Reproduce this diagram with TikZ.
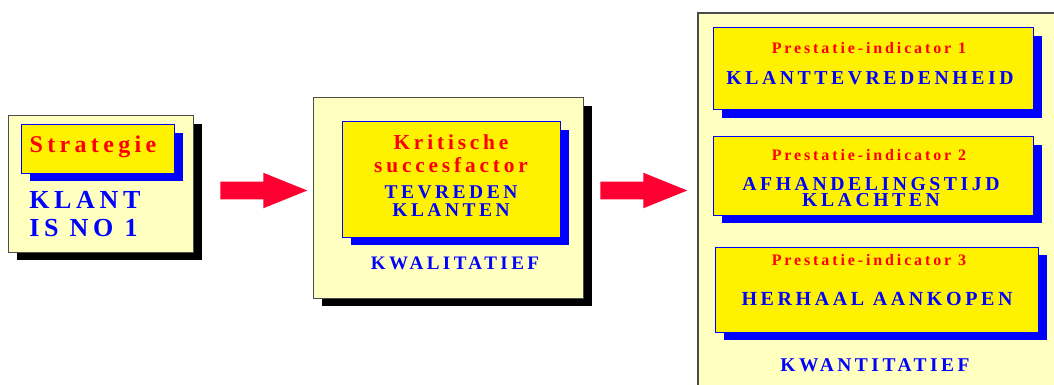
\documentclass[tikz,border=0pt]{standalone}
\usepackage{fontspec}
\setmainfont{Liberation Serif}[LetterSpace=18]
\usepackage{tikz}
\usetikzlibrary{shadows,shapes.arrows}

\newlength{\px}
\setlength{\px}{0.75pt}

\definecolor{paleyellow}{RGB}{255,255,192}
\definecolor{arrowred}{RGB}{255,0,51}

\tikzset{
    outerbox/.style={draw=black!70, line width=1\px, fill=paleyellow, inner sep=0pt},
    innerbox/.style={draw=blue, line width=1\px, fill=yellow, inner sep=0pt},
    blackshadow/.style={drop shadow={shadow xshift=9\px, shadow yshift=-8\px, fill=black, opacity=1}},
    blueshadow/.style={drop shadow={shadow xshift=9\px, shadow yshift=-8\px, fill=blue, opacity=1}},
    redtext/.style={text=red, font=\bfseries, inner sep=0pt, align=center},
    bluetext/.style={text=blue, font=\bfseries, inner sep=0pt, align=center},
    bigarrow/.style={single arrow, fill=arrowred, inner xsep=0pt, inner ysep=8.5\px, minimum width=35\px,
        single arrow head extend=9\px, single arrow tip angle=44, minimum height=87\px, anchor=tail}
}

\begin{document}
\begin{tikzpicture}[x=\px, y=-\px]
        \useasboundingbox (0,0) rectangle (1054,385);

        % Left box
        \node[outerbox, blackshadow, minimum width=185\px, minimum height=136\px] (strat) at (100.5,184) {};
        \node[innerbox, blueshadow, minimum width=153\px, minimum height=48\px] (stratin) at (97.5,149) {};
        \node[redtext, font=\fontsize{18}{20}\bfseries] (strattitle) at (93,147) {Strategie};
        \node[bluetext, anchor=west, align=left, font=\fontsize{19.5}{21}\bfseries] (klant) at (29,214) {KLANT\\IS NO 1};

        % Arrows
        \node[bigarrow] (arrA) at (220,190.5) {};
        \node[bigarrow] (arrB) at (600,190.5) {};

        % Middle box
        \node[outerbox, blackshadow, minimum width=270\px, minimum height=200\px] (ksf) at (448,198) {};
        \node[innerbox, blueshadow, minimum width=218\px, minimum height=115\px] (ksfin) at (451,179.5) {};
        \node[redtext, font=\fontsize{16}{17.25}\bfseries] (ksftitle) at (451,153.5) {Kritische\\succesfactor};
        \node[bluetext, font=\fontsize{14.6}{13.5}\bfseries] (tevreden) at (451,201) {TEVREDEN\\KLANTEN};
        \node[bluetext, font=\fontsize{14.3}{16}\bfseries] (kwal) at (455,263) {KWALITATIEF};

        % Right box
        \draw[draw=black!70, line width=2\px, fill=paleyellow] (698,13) rectangle (1070,400);

        % Indicators
        \node[innerbox, blueshadow, minimum width=320\px, minimum height=82\px] (ind1) at (873,69) {};
        \node[innerbox, blueshadow, minimum width=320\px, minimum height=78\px] (ind2) at (873,176) {};
        \node[innerbox, blueshadow, minimum width=323\px, minimum height=85\px] (ind3) at (876.5,289.5) {};

        \foreach \i/\y in {1/48, 2/155, 3/260}
            \node[redtext, font=\fontsize{12}{14}\bfseries] (ptitle\i) at (869,\y) {Prestatie-indicator \i};

        \node[bluetext, font=\fontsize{14.8}{16}\bfseries] (tevredenheid) at (870,78) {KLANTTEVREDENHEID};
        \node[bluetext, font=\fontsize{14.8}{12.5}\bfseries] (afhandeling) at (871,192) {AFHANDELINGSTIJD\\KLACHTEN};
        \node[bluetext, font=\fontsize{15}{16}\bfseries] (herhaal) at (877,299) {HERHAAL AANKOPEN};
        \node[bluetext, font=\fontsize{14.6}{16}\bfseries] (kwant) at (875,365) {KWANTITATIEF};
    \end{tikzpicture}
\end{document}
